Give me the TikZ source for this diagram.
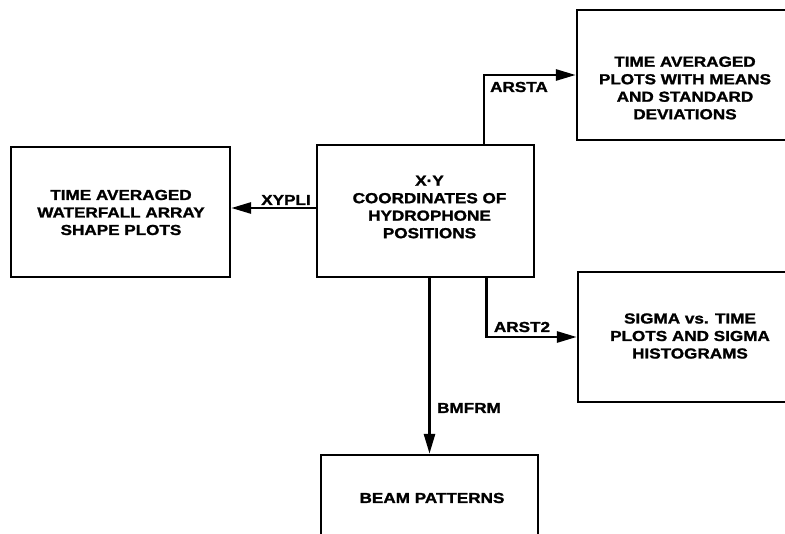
\documentclass[tikz,border=0pt]{standalone}
\usepackage{fontspec}
\setmainfont{Liberation Sans}
\newfontfamily\lblfont{Liberation Sans Bold}[FakeStretch=1.18,FakeBold=1.5]
\usetikzlibrary{arrows.meta,calc}
\begin{document}
\begin{tikzpicture}[x=1pt,y=-1pt,
  box/.style={draw=black,line width=2.4pt,rectangle,inner sep=0pt},
  txt/.style={font=\lblfont\fontsize{14.5}{17.5}\selectfont,align=center,inner sep=0pt},
  conn/.style={line width=2.8pt,-{Triangle[length=20pt,width=11pt]}}
]
\useasboundingbox (0,0) rectangle (785,534);
\clip (0,0) rectangle (785,534);
% boxes
\node[box,minimum width=219pt,minimum height=130pt] (l) at (120.5,212) {};
\node[box,minimum width=217pt,minimum height=132pt] (c) at (425.5,211) {};
\node[box,minimum width=223pt,minimum height=130pt] (tr) at (688.5,75) {};
\node[box,minimum width=222pt,minimum height=130pt] (sg) at (689,337) {};
\node[box,minimum width=217pt,minimum height=140pt] (bm) at (429.5,525) {};
% texts
\node[txt] (ltxt) at (121,212.5) {TIME AVERAGED\\WATERFALL ARRAY\\SHAPE PLOTS};
\node[txt] (ctxt) at (429.5,207) {X·Y\\COORDINATES OF\\HYDROPHONE\\POSITIONS};
\node[txt] (trtxt) at (685,88) {TIME AVERAGED\\PLOTS WITH MEANS\\AND STANDARD\\DEVIATIONS};
\node[txt] (sgtxt) at (690,336) {SIGMA vs. TIME\\PLOTS AND SIGMA\\HISTOGRAMS};
\node[txt] (bmtxt) at (432,498) {BEAM PATTERNS};
% connectors
\draw[conn] ([yshift=3pt]c.west) coordinate (xa) -- (xa -| l.east);
\draw[conn] ([xshift=58.5pt]c.north) |- (tr.west);
\draw[conn] ([xshift=61pt]c.south) |- (sg.west);
\draw[conn] (bm.north |- c.south) -- (bm.north);
% connector labels
\node[txt] (xypli) at (286,200) {XYPLI};
\node[txt] (arsta) at (519,87) {ARSTA};
\node[txt] (arst2) at (522,327) {ARST2};
\node[txt] (bmfrm) at (469,408) {BMFRM};
\end{tikzpicture}
\end{document}
